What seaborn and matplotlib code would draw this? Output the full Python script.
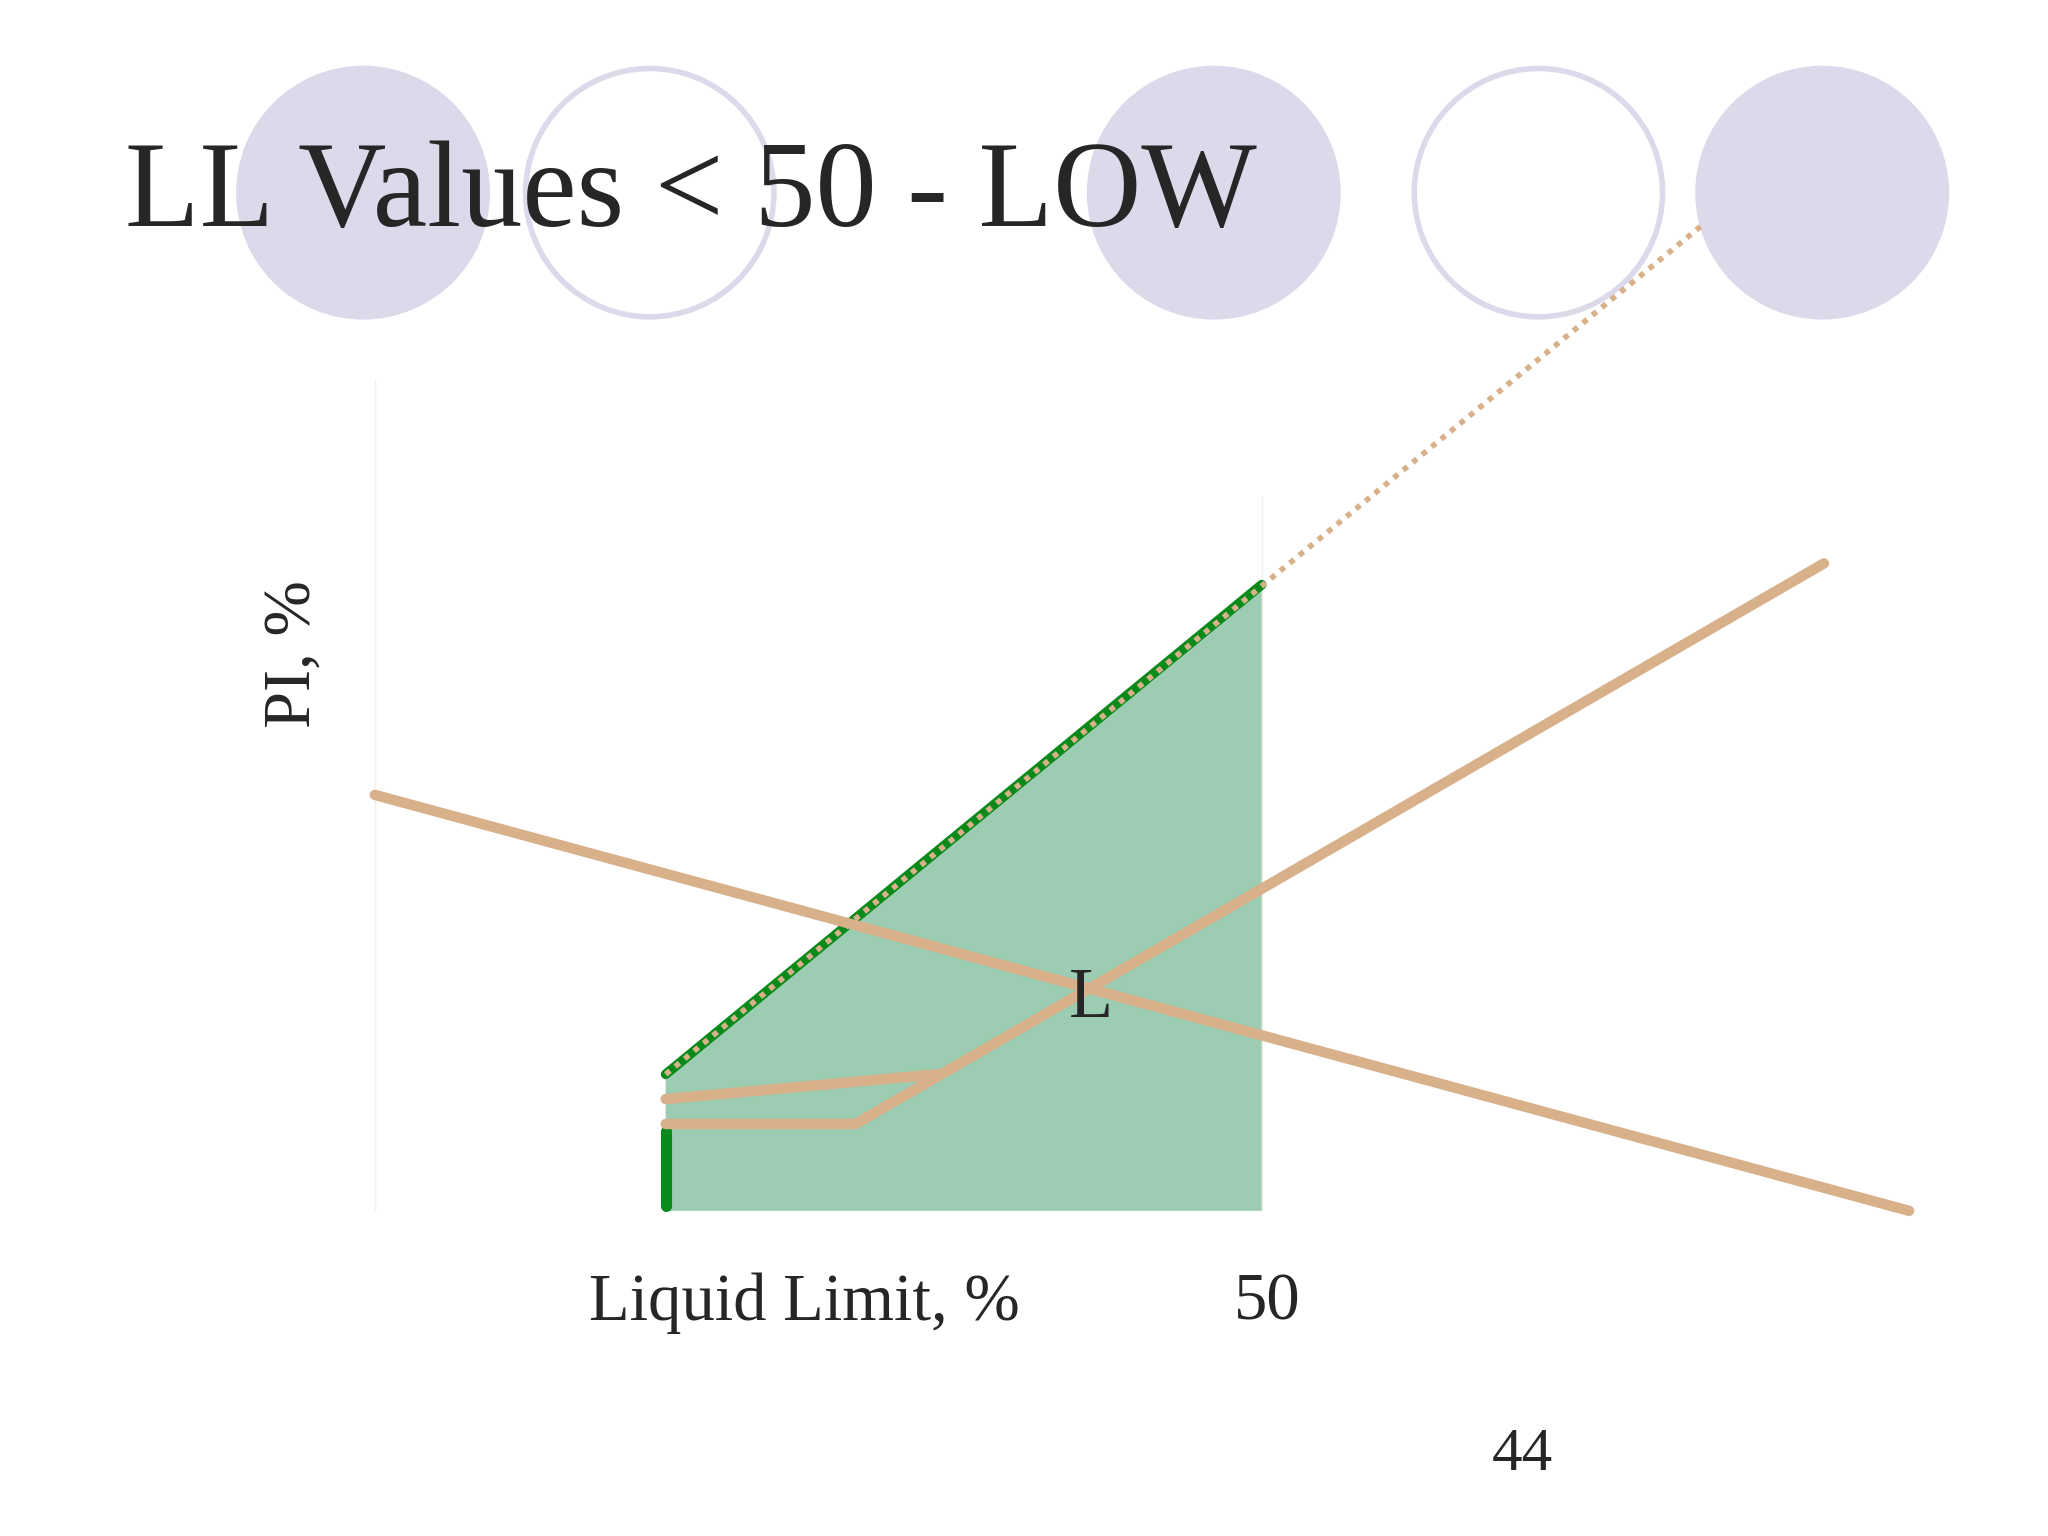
import matplotlib.pyplot as plt
import seaborn as sns
from matplotlib.patches import Circle, Polygon

# chart values in (LL %, PI %) units
axis_ll = [0.0, 0.0, 86.5]
axis_pi = [46.9, 0.0, 0.0]
ll50_ll = [50.0, 50.0]
ll50_pi = [0.0, 40.3]
zone_ll = [16.4, 50.0, 50.0, 16.4]
zone_pi = [7.7, 35.3, 0.0, 0.0]
aline_ll = [16.4, 75.0]
aline_pi = [7.7, 55.7]
uline_ll = [16.4, 27.1, 81.7]
uline_pi = [4.9, 4.9, 36.5]
box_ll = [31.7, 16.4, 16.4]
box_pi = [7.7, 7.7, 4.9]
circle_ll = [-0.66, 15.5, 47.3, 65.6, 81.6]
circle_filled = [True, False, True, False, True]

TAN = "#d8b08a"
GREEN = "#0a8a1a"
FILL = "#9ccdb2"
LAV = "#dcd9ea"
serif = ["Liberation Serif", "DejaVu Serif"]

sns.set_style("white")
fig = plt.figure(figsize=(20.48, 15.36), dpi=100)
ax = fig.add_axes([0, 0, 1, 1])
ax.set_xlim(-21.13, 94.33)
ax.set_ylim(-18.33, 68.26)
ax.axis("off")

for c, f in zip(circle_ll, circle_filled):
    ax.add_patch(Circle((c, 57.4), 7.0, facecolor=LAV if f else "white",
                        edgecolor=LAV, lw=4, zorder=1))

ax.add_patch(Polygon(list(zip(zone_ll, zone_pi)), closed=True,
                     facecolor=FILL, edgecolor="none", zorder=2))
ax.plot(zone_ll[:2], zone_pi[:2], color=GREEN, lw=7, zorder=3)
ax.plot([16.4, 16.4], [0.3, 4.5], color=GREEN, lw=8, zorder=3)
ax.plot(aline_ll, aline_pi, color=TAN, lw=4, ls=(0, (1, 1.2)), zorder=4)

for xs, ys in [(axis_ll, axis_pi), (ll50_ll, ll50_pi),
               (uline_ll, uline_pi), (box_ll, box_pi)]:
    sns.lineplot(x=xs, y=ys, sort=False, color=TAN, lw=7.5, ax=ax,
                 zorder=5, solid_joinstyle="miter")

ax.text(-14.1, 57.2, "LL Values < 50 - LOW", fontsize=88, family=serif,
        va="center", ha="left", zorder=6)
ax.text(-4.6, 31.4, "PI, %", fontsize=48, family=serif, rotation=90,
        va="center", ha="center")
ax.text(24.2, -5.2, "Liquid Limit, %", fontsize=48, family=serif,
        va="center", ha="center")
ax.text(50.3, -5.2, "50", fontsize=48, family=serif, va="center", ha="center")
ax.text(40.4, 11.9, "L", fontsize=52, family=serif, va="center", ha="center",
        zorder=6)
ax.text(64.7, -13.8, "44", fontsize=44, family=serif, va="center", ha="center")

fig.savefig("out.png", dpi=100)
